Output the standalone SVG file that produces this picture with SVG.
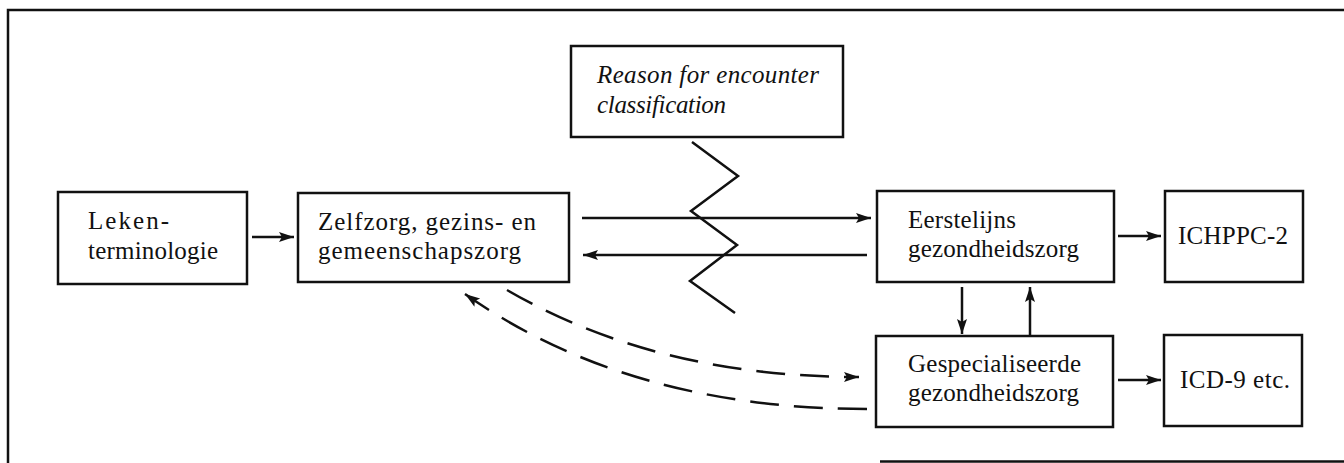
<svg xmlns="http://www.w3.org/2000/svg" width="1344" height="463" viewBox="0 0 1344 463">
<defs>
<style>
.box{fill:#fff;stroke:#111;stroke-width:2.5}
.frame{fill:none;stroke:#111;stroke-width:2.5}
.t{font-family:"Liberation Serif","Times New Roman",serif;font-size:25px;fill:#111}
.it{font-style:italic}
.c{fill:none;stroke:#111;stroke-width:2.5}
.d{fill:none;stroke:#111;stroke-width:2.5;stroke-dasharray:29 15}
</style>
<marker id="ah" markerUnits="userSpaceOnUse" markerWidth="16" markerHeight="12" refX="15" refY="5" orient="auto">
<path d="M0,0 L15,5 L0,10 L3,5 z" fill="#111"/>
</marker>
</defs>
<g id="frame">
<polyline class="frame" points="8,463 8,10 1344,10"/>
<line class="frame" x1="880" y1="461.5" x2="1344" y2="461.5"/>
</g>
<g id="node-leken">
<rect class="box" x="58" y="192" width="189" height="92"/>
<text class="t" x="88" y="229" textLength="81">Leken-</text>
<text class="t" x="88" y="259" textLength="130">terminologie</text>
</g>
<g id="node-zelfzorg">
<rect class="box" x="298" y="193" width="271" height="89"/>
<text class="t" x="318" y="230" textLength="218">Zelfzorg, gezins- en</text>
<text class="t" x="318" y="259" textLength="203">gemeenschapszorg</text>
</g>
<g id="node-reason">
<rect class="box" x="571" y="46" width="272" height="91"/>
<text class="t it" x="597" y="83" textLength="222">Reason for encounter</text>
<text class="t it" x="597" y="113" textLength="129">classification</text>
</g>
<g id="node-eerstelijns">
<rect class="box" x="877" y="191" width="237" height="91"/>
<text class="t" x="908" y="228" textLength="108">Eerstelijns</text>
<text class="t" x="908" y="257" textLength="171">gezondheidszorg</text>
</g>
<g id="node-gespecialiseerde">
<rect class="box" x="876" y="336" width="237" height="91"/>
<text class="t" x="908" y="372" textLength="173">Gespecialiseerde</text>
<text class="t" x="908" y="401" textLength="171">gezondheidszorg</text>
</g>
<g id="node-ichppc">
<rect class="box" x="1165" y="191" width="138" height="91"/>
<text class="t" x="1178" y="244" textLength="110">ICHPPC-2</text>
</g>
<g id="node-icd">
<rect class="box" x="1164" y="335" width="138" height="91"/>
<text class="t" x="1180" y="388" textLength="110">ICD-9 etc.</text>
</g>
<g id="connectors">
<line class="c" x1="252" y1="237" x2="294" y2="237" marker-end="url(#ah)"/>
<line class="c" x1="582" y1="218" x2="871" y2="218" marker-end="url(#ah)"/>
<line class="c" x1="867" y1="255" x2="583" y2="255" marker-end="url(#ah)"/>
<polyline class="c" points="692,142 738,176 691,211 737,245 690,281 735,313"/>
<line class="c" x1="1118" y1="236" x2="1161" y2="236" marker-end="url(#ah)"/>
<line class="c" x1="1118" y1="380" x2="1161" y2="380" marker-end="url(#ah)"/>
<line class="c" x1="962" y1="287" x2="962" y2="334" marker-end="url(#ah)"/>
<line class="c" x1="1030" y1="335" x2="1030" y2="287" marker-end="url(#ah)"/>
<path class="d" d="M507,290 Q657,377 859,377" marker-end="url(#ah)"/>
<path class="d" d="M867,409 Q629,409 465,294" marker-end="url(#ah)"/>
</g>
</svg>
